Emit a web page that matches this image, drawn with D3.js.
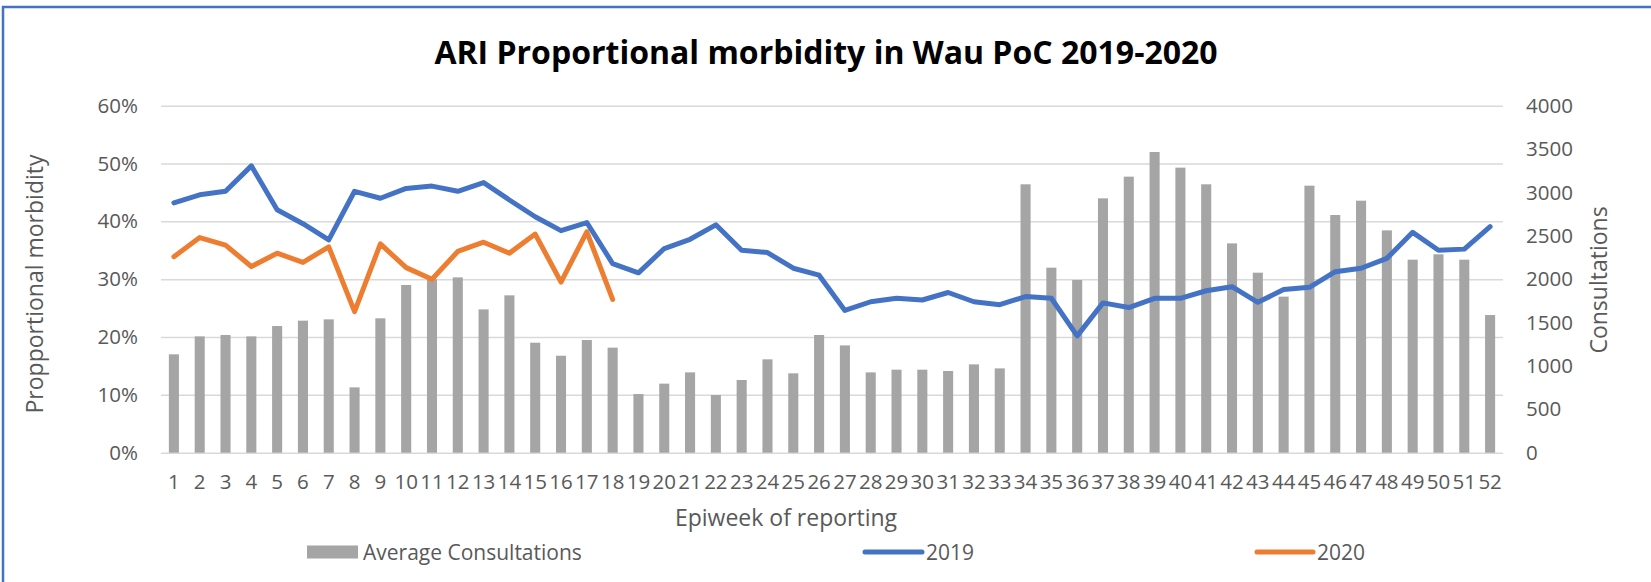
<!DOCTYPE html>
<html>
<head>
<meta charset="utf-8">
<script src="https://cdn.jsdelivr.net/npm/d3@7"></script>
<style>
  body { margin: 0; background: #fff; }
  text { font-family: "Open Sans", sans-serif; }
</style>
</head>
<body>
<div class="chart"></div>
<script>
// epiweeks 1..52
const weeks = [1,2,3,4,5,6,7,8,9,10,11,12,13,14,15,16,17,18,19,20,21,22,23,24,25,26,
  27,28,29,30,31,32,33,34,35,36,37,38,39,40,41,42,43,44,45,46,47,48,49,50,51,52];

// average consultations (right axis)
const consultations = [1134,1341,1357,1341,1460,1522,1537,753,1549,1933,2000,2021,1652,1814,1268,
  1118,1299,1211,676,796,926,665,838,1076,915,1357,1237,926,957,957,942,1018,972,
  3094,2133,1991,2932,3182,3466,3286,3094,2413,2075,1799,3078,2740,2905,2563,2225,2287,2225,1587];

// proportional morbidity (left axis)
const morb2019 = [0.432,0.446,0.452,0.496,0.420,0.396,0.368,0.452,0.440,0.457,0.461,0.452,0.467,0.437,0.408,
  0.384,0.398,0.327,0.311,0.353,0.369,0.394,0.350,0.346,0.319,0.307,0.246,0.261,0.267,0.264,0.277,0.261,0.256,
  0.270,0.267,0.202,0.259,0.251,0.267,0.267,0.280,0.287,0.260,0.282,0.286,0.313,0.319,0.336,0.381,0.350,0.352,0.391];
const morb2020 = [0.339,0.372,0.359,0.322,0.345,0.329,0.356,0.244,0.361,0.320,0.300,0.348,0.364,0.345,0.378,
  0.295,0.382,0.265];

const leftTicks = [0,0.1,0.2,0.3,0.4,0.5,0.6];
const rightTicks = [0,500,1000,1500,2000,2500,3000,3500,4000];

const width = 1651;
const height = 582;
const plotL = 161, plotR = 1503, plotT = 105.7, plotB = 452.7;
const grey = "#595959";

const svg = d3.select(".chart").append("svg")
  .attr("width", width)
  .attr("height", height);

// outer border (runs off the right/bottom edge like the screenshot)
svg.append("rect")
  .attr("x", 3).attr("y", 7)
  .attr("width", width + 20).attr("height", height + 20)
  .attr("fill", "none")
  .attr("stroke", "#4472C4")
  .attr("stroke-width", 2.5);

const x = d3.scaleBand()
  .domain(weeks)
  .range([plotL, plotR])
  .paddingInner(0.61)
  .paddingOuter(0.305);
const yL = d3.scaleLinear().domain([0, 0.6]).range([plotB, plotT]);
const yR = d3.scaleLinear().domain([0, 4000]).range([plotB, plotT]);

// gridlines
svg.append("g")
  .attr("class", "grid")
  .attr("transform", `translate(${plotL},0)`)
  .call(d3.axisLeft(yL).tickValues(leftTicks).tickSize(-(plotR - plotL)).tickFormat(""))
  .call(g => g.select(".domain").remove())
  .call(g => g.selectAll("line").attr("stroke", "#D9D9D9").attr("stroke-width", 1.5));

// bars
svg.append("g")
  .selectAll("rect")
  .data(weeks)
  .join("rect")
  .attr("x", d => x(d))
  .attr("width", x.bandwidth())
  .attr("y", (d, i) => yR(consultations[i]))
  .attr("height", (d, i) => plotB - yR(consultations[i]))
  .attr("fill", "#A5A5A5");

// lines
const line = d3.line()
  .x((d, i) => x(weeks[i]) + x.bandwidth() / 2)
  .y(d => yL(d));

svg.append("path")
  .datum(morb2019)
  .attr("d", line)
  .attr("fill", "none")
  .attr("stroke", "#4472C4")
  .attr("stroke-width", 5)
  .attr("stroke-linejoin", "round")
  .attr("stroke-linecap", "round");

svg.append("path")
  .datum(morb2020)
  .attr("d", line)
  .attr("fill", "none")
  .attr("stroke", "#ED7D31")
  .attr("stroke-width", 5)
  .attr("stroke-linejoin", "round")
  .attr("stroke-linecap", "round");

// axes
const styleAxis = g => {
  g.select(".domain").remove();
  g.selectAll("text").attr("fill", grey).style("font-size", "20.5px");
};

svg.append("g")
  .attr("transform", `translate(${plotL},0)`)
  .call(d3.axisLeft(yL).tickValues(leftTicks).tickFormat(d3.format(".0%")).tickSize(0).tickPadding(23))
  .call(styleAxis);

svg.append("g")
  .attr("transform", `translate(${plotR},0)`)
  .call(d3.axisRight(yR).tickValues(rightTicks).tickFormat(d => d).tickSize(0).tickPadding(23))
  .call(styleAxis);

svg.append("g")
  .attr("transform", `translate(0,${plotB})`)
  .call(d3.axisBottom(x).tickSize(0).tickPadding(22))
  .call(styleAxis);

// title
svg.append("text")
  .attr("x", 826).attr("y", 64)
  .attr("text-anchor", "middle")
  .style("font-size", "32px")
  .style("font-weight", "bold")
  .attr("fill", "#000")
  .text("ARI Proportional morbidity in Wau PoC 2019-2020");

// axis titles
svg.append("text")
  .attr("transform", "translate(34,284) rotate(-90)")
  .attr("text-anchor", "middle")
  .attr("dominant-baseline", "central")
  .style("font-size", "23px")
  .attr("fill", grey)
  .text("Propportional morbidity");

svg.append("text")
  .attr("transform", "translate(1598,280) rotate(-90)")
  .attr("text-anchor", "middle")
  .attr("dominant-baseline", "central")
  .style("font-size", "23px")
  .attr("fill", grey)
  .text("Consultations");

svg.append("text")
  .attr("x", 786).attr("y", 517)
  .attr("text-anchor", "middle")
  .attr("dominant-baseline", "central")
  .style("font-size", "23px")
  .attr("fill", grey)
  .text("Epiweek of reporting");

// legend
const legY = 552;
const legend = svg.append("g").attr("class", "legend");

legend.append("rect")
  .attr("x", 307).attr("y", legY - 6.5)
  .attr("width", 51).attr("height", 13)
  .attr("fill", "#A5A5A5");

const legLines = [
  {name: "2019", color: "#4472C4", x0: 865, x1: 922},
  {name: "2020", color: "#ED7D31", x0: 1257, x1: 1313}
];

legend.selectAll("line")
  .data(legLines)
  .join("line")
  .attr("x1", d => d.x0).attr("x2", d => d.x1)
  .attr("y1", legY).attr("y2", legY)
  .attr("stroke", d => d.color)
  .attr("stroke-width", 5)
  .attr("stroke-linecap", "round");

legend.selectAll("text")
  .data([{name: "Average Consultations", x: 363}].concat(legLines.map(d => ({name: d.name, x: d.x1 + 4}))))
  .join("text")
  .attr("x", d => d.x)
  .attr("y", legY)
  .attr("dominant-baseline", "central")
  .style("font-size", "21px")
  .attr("fill", grey)
  .text(d => d.name);
</script>
</body>
</html>
